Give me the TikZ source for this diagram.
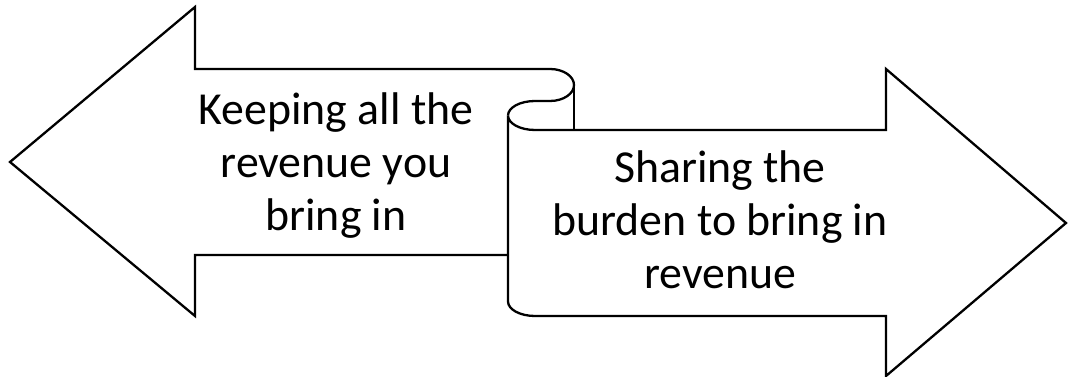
\documentclass[tikz,border=0pt]{standalone}
\usepackage{fontspec}
\setmainfont{Carlito}
\usetikzlibrary{positioning}
\tikzset{
  outline/.style={draw, line width=2.3pt, line join=miter
  },
  banner/.style={
    outline, fill=white
  },
  caption/.style={
    align=center, inner sep=0mm, font=\fontsize{45.8}{53}\selectfont
  }
}

\begin{document}
\begin{tikzpicture}[x=1pt, y=1pt]
   \useasboundingbox (0,0) rectangle (1068,377);

   \draw[outline] (508,122) -- (195,122) -- (195,61) -- (10,215) -- (195,370) -- (195,308) -- (550,308)
      arc[start angle=90, end angle=-90, x radius=24, y radius=16] -- (535,276)
      arc[start angle=90, end angle=180, x radius=27, y radius=14.5];
   \draw[outline] (574,292) -- (574,247);

   \draw[banner] (508,261.5) arc[start angle=180, end angle=270, x radius=27, y radius=14.5]
      -- (886,247) -- (886,308) -- (1066,154) -- (886,1) -- (886,61) -- (535,61)
      arc[start angle=270, end angle=180, x radius=27, y radius=14.5] -- cycle;

   \node[caption] (keep) at (336,211) {Keeping all the\\revenue you\\bring in};
   \node[caption] (share) at (720,157) {Sharing the\\burden to bring in\\revenue};
\end{tikzpicture}
\end{document}
